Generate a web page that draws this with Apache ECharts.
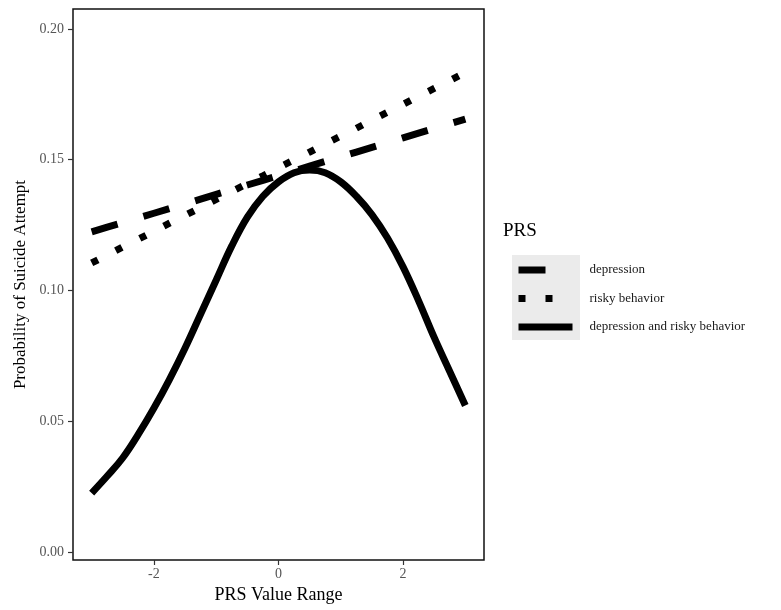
<!DOCTYPE html>
<html>
<head>
<meta charset="utf-8">
<script src="https://cdn.jsdelivr.net/npm/echarts@6/dist/echarts.min.js"></script>
<style>
  html, body { margin: 0; padding: 0; background: #fff; }
  #chart { width: 781px; height: 610px; }
</style>
</head>
<body>
<div id="chart"></div>
<script>
// PRS values on the x axis
const prsValues = [-3, -2.75, -2.5, -2.25, -2, -1.75, -1.5, -1.25, -1, -0.75, -0.5, -0.25,
  0, 0.25, 0.5, 0.75, 1, 1.25, 1.5, 1.75, 2, 2.25, 2.5, 2.75, 3];
const depression = [0.1224, 0.1242, 0.1259, 0.1277, 0.1295, 0.1313, 0.1331, 0.1349, 0.1367, 0.1385,
  0.1403, 0.1421, 0.1439, 0.1457, 0.1475, 0.1493, 0.1511, 0.1529, 0.1547, 0.1565, 0.1583, 0.1601,
  0.1619, 0.1637, 0.1655];
const riskyBehavior = [0.1105, 0.1135, 0.1166, 0.1196, 0.1226, 0.1257, 0.1287, 0.1317, 0.1348, 0.1378,
  0.1408, 0.1438, 0.1469, 0.1499, 0.1529, 0.1560, 0.1590, 0.1620, 0.1651, 0.1681, 0.1711, 0.1742,
  0.1772, 0.1802, 0.1833];
const depressionAndRisky = [0.0225, 0.029, 0.036, 0.045, 0.055, 0.066, 0.078, 0.091, 0.104, 0.117,
  0.128, 0.136, 0.1415, 0.145, 0.146, 0.145, 0.1415, 0.136, 0.129, 0.120, 0.109, 0.096, 0.082,
  0.069, 0.056];
const seriesNames = ['depression', 'risky behavior', 'depression and risky behavior'];
const xTicks = [-2, 0, 2];
const yTicks = [0, 0.05, 0.1, 0.15, 0.2];

const serif = 'Liberation Serif';

function pairs(ys) {
  return prsValues.map((x, i) => [x, ys[i]]);
}

const myChart = echarts.init(document.getElementById('chart'));
myChart.setOption({
  animation: false,
  title: {
    text: 'PRS',
    left: 503,
    top: 222,
    padding: 0,
    textStyle: { fontFamily: serif, fontSize: 19, fontWeight: 'normal', color: '#000' }
  },
  graphic: [
    {
      // grey legend key background
      type: 'rect',
      shape: { x: 512, y: 255, width: 68, height: 85 },
      style: { fill: '#ebebeb' },
      z: 0
    }
  ],
  legend: {
    data: seriesNames,
    orient: 'vertical',
    left: 515,
    top: 262,
    padding: 0,
    itemWidth: 54,
    itemHeight: 20,
    itemGap: 12.5,
    itemStyle: { opacity: 0 },
    lineStyle: { width: 'inherit', type: 'inherit', cap: 'butt' },
    textStyle: { fontFamily: serif, fontSize: 13, color: '#1a1a1a', padding: [0, 0, 0, 12] },
    z: 5
  },
  grid: {
    left: 73,
    right: 297,
    top: 9,
    bottom: 50,
    show: true,
    borderColor: '#111',
    borderWidth: 1.5,
    backgroundColor: 'transparent'
  },
  xAxis: {
    type: 'value',
    min: -3.3,
    max: 3.3,
    name: 'PRS Value Range',
    nameLocation: 'middle',
    nameGap: 24,
    nameTextStyle: { fontFamily: serif, fontSize: 18, color: '#000' },
    axisLine: { show: false, onZero: false },
    splitLine: { show: false },
    axisTick: {
      show: true,
      length: 5,
      customValues: xTicks,
      lineStyle: { color: '#333', width: 1.2 }
    },
    axisLabel: {
      customValues: xTicks,
      margin: 7,
      fontFamily: serif,
      fontSize: 14,
      color: '#555'
    }
  },
  yAxis: {
    type: 'value',
    min: -0.0031,
    max: 0.2076,
    name: 'Probability of Suicide Attempt',
    nameLocation: 'middle',
    nameGap: 41,
    nameTextStyle: { fontFamily: serif, fontSize: 17, color: '#000' },
    axisLine: { show: false, onZero: false },
    splitLine: { show: false },
    axisTick: {
      show: true,
      length: 5,
      customValues: yTicks,
      lineStyle: { color: '#333', width: 1.2 }
    },
    axisLabel: {
      customValues: yTicks,
      margin: 9,
      fontFamily: serif,
      fontSize: 14,
      color: '#555',
      formatter: v => v.toFixed(2)
    }
  },
  series: [
    {
      name: seriesNames[0],
      type: 'line',
      showSymbol: false,
      symbol: 'none',
      data: pairs(depression),
      lineStyle: { color: '#000', width: 7, type: [27, 27], cap: 'butt' },
      itemStyle: { color: '#000' }
    },
    {
      name: seriesNames[1],
      type: 'line',
      showSymbol: false,
      symbol: 'none',
      data: pairs(riskyBehavior),
      lineStyle: { color: '#000', width: 7, type: [7, 20], cap: 'butt' },
      itemStyle: { color: '#000' }
    },
    {
      name: seriesNames[2],
      type: 'line',
      showSymbol: false,
      symbol: 'none',
      smooth: 0.4,
      data: pairs(depressionAndRisky),
      lineStyle: { color: '#000', width: 7, cap: 'butt' },
      itemStyle: { color: '#000' }
    }
  ]
});
window.addEventListener('resize', function () {
  myChart.resize();
});
</script>
</body>
</html>
